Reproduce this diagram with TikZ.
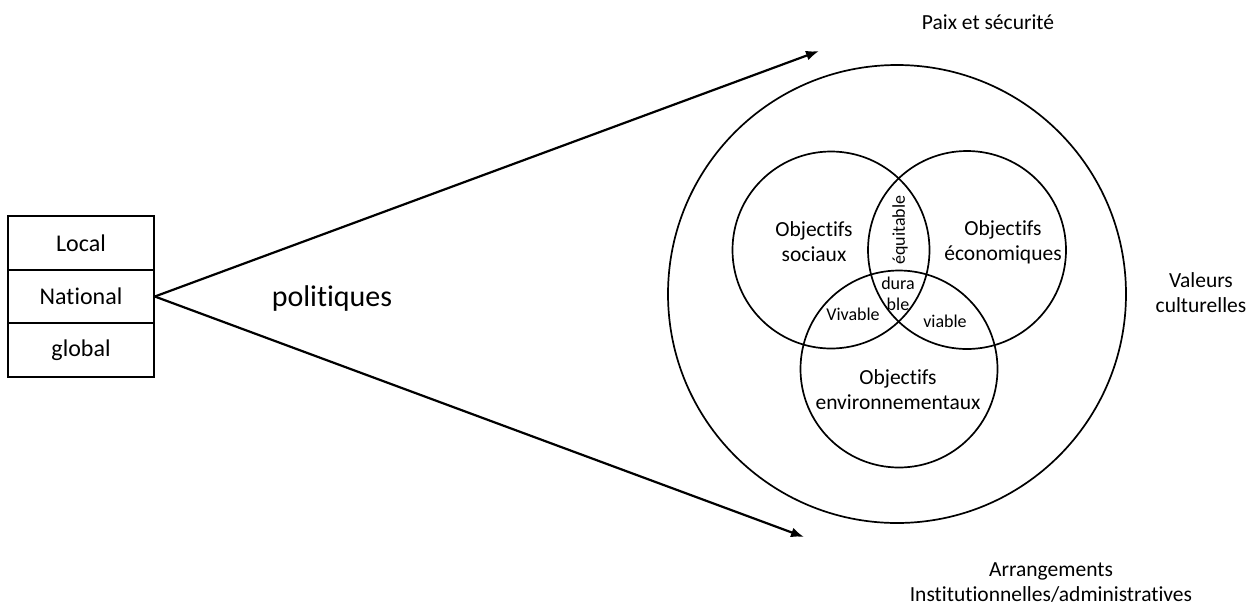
\documentclass[tikz,border=0pt]{standalone}
\usepackage{fontspec}
\setmainfont{Carlito}[Ligatures=NoCommon]
\usetikzlibrary{arrows.meta}
\newcommand{\fs}[2]{\fontsize{#1}{#2}\selectfont}
\begin{document}
\begin{tikzpicture}[x=1pt,y=-1pt,
  cell/.style={draw, line width=1.7pt, minimum width=146pt, minimum height=53.5pt, inner sep=0pt, font=\fs{24}{28}},
  ring/.style={draw, circle, line width=1.7pt, inner sep=0pt},
  lbl/.style={font=\fs{21.5}{25}, align=center, inner sep=0pt},
  small/.style={font=\fs{18}{21}, align=center, inner sep=0pt},
  ray/.style={line width=2.2pt, -{Latex[length=13pt,width=10pt]}}]
  \useasboundingbox (0,0) rectangle (1248,606);

  % levels of action
  \node[cell] (local) at (81,243) {Local};
  \node[cell] (national) at (81,296.5) {National};
  \node[cell] (global) at (81,350) {global};

  \node[font=\fs{30}{34}, inner sep=0pt] (pol) at (332,298) {politiques};

  % outer frame
  \node[ring, minimum size=458pt] (outer) at (897,294) {};

  % three goals
  \node[ring, minimum size=197pt] (soc) at (831,250) {};
  \node[ring, minimum size=198pt] (eco) at (967,250) {};
  \node[ring, minimum size=197pt] (env) at (899,369) {};

  \node[lbl] (tsoc) at (814,242) {Objectifs\\sociaux};
  \node[lbl] (teco) at (1003,242) {Objectifs\\économiques};
  \node[lbl] (tenv) at (898,390) {Objectifs\\environnementaux};

  \node[small, rotate=90] (equ) at (900,230) {équitable};
  \node[small] (dur) at (898,294) {dura\\ble};
  \node[small] (viv) at (853,314) {Vivable};
  \node[small] (via) at (945,321) {viable};

  % context
  \node[lbl] (paix) at (988,22) {Paix et sécurité};
  \node[lbl] (val) at (1201,293) {Valeurs\\culturelles};
  \node[lbl] (arr) at (1051,583) {Arrangements\\Institutionnelles/administratives};

  % policy rays
  \coordinate (up) at (819,51);
  \coordinate (down) at (804,537);
  \draw[ray] (national.east) -- (up);
  \draw[ray] (national.east) -- (down);
\end{tikzpicture}
\end{document}
